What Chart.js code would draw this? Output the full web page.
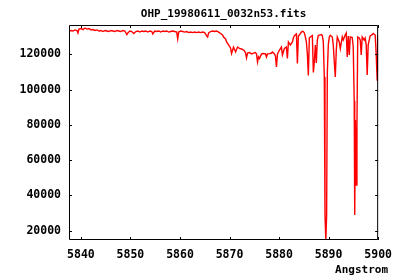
<!DOCTYPE html>
<html>
<head>
<meta charset="utf-8">
<script src="https://cdn.jsdelivr.net/npm/chart.js@4/dist/chart.umd.min.js"></script>
<style>
  html, body { margin: 0; padding: 0; background: #fff; }
  #wrap { width: 400px; height: 280px; }
</style>
</head>
<body>
<div id="wrap"><canvas id="spec"></canvas></div>
<script>
// ── Spectrum data ─────────────────────────────────────────────
const wavelength = [
  5837.60, 5838.00, 5838.41, 5838.81, 5839.21, 5839.41, 5839.61, 5840.02, 5840.42, 5840.82,
  5841.22, 5841.63, 5842.03, 5842.43, 5842.83, 5843.24, 5843.64, 5844.04, 5844.44, 5844.85,
  5845.25, 5845.65, 5846.05, 5846.46, 5846.86, 5847.26, 5847.67, 5848.07, 5848.47, 5848.87,
  5849.28, 5849.48, 5849.88, 5850.28, 5850.68, 5851.09, 5851.49, 5851.89, 5852.29, 5852.70,
  5853.10, 5853.50, 5853.91, 5854.31, 5854.51, 5854.91, 5855.31, 5855.72, 5856.12, 5856.52,
  5856.92, 5857.33, 5857.73, 5858.13, 5858.53, 5858.94, 5859.34, 5859.54, 5859.74, 5860.15,
  5860.55, 5860.95, 5861.35, 5861.76, 5862.16, 5862.56, 5862.96, 5863.37, 5863.77, 5864.17,
  5864.57, 5864.98, 5865.38, 5865.58, 5865.78, 5866.18, 5866.59, 5866.99, 5867.39, 5867.80,
  5868.20, 5868.60, 5868.80, 5869.20, 5869.41, 5869.81, 5870.21, 5870.41, 5870.81, 5871.22,
  5871.62, 5872.02, 5872.42, 5872.83, 5873.03, 5873.23, 5873.43, 5873.63, 5874.04, 5874.44,
  5874.84, 5875.24, 5875.45, 5875.65, 5875.85, 5876.05, 5876.46, 5876.86, 5877.26, 5877.46,
  5877.66, 5878.06, 5878.47, 5878.67, 5879.07, 5879.27, 5879.47, 5879.68, 5880.08, 5880.48,
  5880.68, 5881.08, 5881.48, 5881.68, 5881.89, 5882.09, 5882.29, 5882.69, 5882.89, 5883.09,
  5883.50, 5883.70, 5883.90, 5884.10, 5884.50, 5884.70, 5884.91, 5885.11, 5885.31, 5885.51,
  5885.71, 5885.91, 5886.11, 5886.31, 5886.72, 5886.92, 5887.12, 5887.32, 5887.52, 5887.72,
  5887.92, 5888.13, 5888.53, 5888.73, 5888.93, 5889.13, 5889.27, 5889.44, 5889.60, 5889.74,
  5889.94, 5890.14, 5890.34, 5890.74, 5890.94, 5891.15, 5891.35, 5891.55, 5891.75, 5892.15,
  5892.36, 5892.76, 5892.96, 5893.36, 5893.56, 5893.76, 5893.97, 5894.17, 5894.37, 5894.77,
  5894.97, 5895.17, 5895.27, 5895.41, 5895.57, 5895.72, 5895.88, 5896.18, 5896.38, 5896.58,
  5896.78, 5897.18, 5897.38, 5897.59, 5897.79, 5897.99, 5898.39, 5898.80, 5899.00, 5899.40,
  5899.60, 5899.80, 5899.90, 5900.00
];
const flux = [
  133200, 133500, 133200, 133800, 133500, 132100, 134300, 134600, 134000, 134900,
  134300, 134600, 133800, 134000, 133500, 133800, 133200, 133500, 132900, 133500,
  133200, 132900, 133500, 133200, 132900, 133500, 133200, 132900, 133500, 133200,
  131200, 132100, 133200, 132900, 131800, 132900, 133200, 132600, 133200, 132900,
  133200, 132600, 133200, 132900, 131500, 133200, 132900, 133200, 132600, 133200,
  132900, 133200, 132600, 132900, 133200, 132900, 132600, 128700, 132600, 133200,
  132900, 132600, 132900, 132300, 132600, 132300, 132600, 132300, 132600, 132300,
  132600, 132300, 130400, 129800, 132100, 132900, 133200, 132900, 133200, 132600,
  131800, 130900, 129800, 128700, 127000, 125300, 123600, 120400, 124100, 121300,
  124100, 123300, 123000, 122400, 121900, 120700, 117900, 120700, 121000, 120200,
  120700, 121000, 120200, 115600, 118500, 117600, 120200, 120400, 120200, 118500,
  120200, 120400, 120700, 121300, 120200, 119000, 112800, 120200, 122400, 124100,
  119600, 123300, 124100, 117600, 127000, 126100, 125300, 127000, 129200, 130600,
  131500, 114800, 130400, 130900, 132600, 133000, 132900, 132100, 129800, 127000,
  120400, 108000, 129200, 129800, 130600, 109700, 115600, 125300, 115100, 128100,
  130600, 130900, 131200, 130600, 127000, 107100, 28900, 14700, 28900, 109400,
  125300, 129800, 130800, 129800, 125300, 115600, 107100, 122400, 129800, 127000,
  123200, 129800, 128100, 131100, 132100, 118500, 130400, 119600, 129800, 129500,
  124100, 93500, 28900, 82700, 45900, 79900, 129800, 129200, 128100, 119600,
  129800, 128100, 129200, 125300, 108300, 125300, 130400, 131100, 131800, 130900,
  120300, 105400, 130900, 109400
];
const xTicks = [5840, 5850, 5860, 5870, 5880, 5890, 5900];
const yTicks = [20000, 40000, 60000, 80000, 100000, 120000];

const titleText = 'OHP_19980611_0032n53.fits';
const xLabel    = 'Angstrom';
const FONT      = '"DejaVu Sans Mono", monospace';

// ── Border box, inward mirrored ticks, title and x label ──────
const gnuFrame = {
  id: 'gnuFrame',
  afterDatasetsDraw(chart) {
    const { ctx, chartArea: a, scales: { x, y } } = chart;
    const t = 3;
    ctx.save();
    ctx.strokeStyle = '#000';
    ctx.lineWidth = 1;
    ctx.beginPath();
    ctx.rect(a.left + 0.5, a.top + 0.5, a.right - a.left - 1, a.bottom - a.top - 1);
    x.ticks.forEach(tk => {
      const px = Math.round(x.getPixelForValue(tk.value)) + 0.5;
      ctx.moveTo(px, a.bottom); ctx.lineTo(px, a.bottom - t);
      ctx.moveTo(px, a.top);    ctx.lineTo(px, a.top + t);
    });
    y.ticks.forEach(tk => {
      const py = Math.round(y.getPixelForValue(tk.value)) + 0.5;
      ctx.moveTo(a.left, py);  ctx.lineTo(a.left + t, py);
      ctx.moveTo(a.right, py); ctx.lineTo(a.right - t, py);
    });
    ctx.stroke();

    ctx.fillStyle = '#000';
    ctx.font = 'bold 11px ' + FONT;
    ctx.textBaseline = 'middle';
    ctx.textAlign = 'center';
    ctx.fillText(titleText, (a.left + a.right) / 2, 14);
    ctx.textAlign = 'right';
    ctx.fillText(xLabel, 388, 270);
    ctx.restore();
  }
};

const tickFont = { family: FONT, size: 11.5, weight: 'bold' };

new Chart(document.getElementById('spec'), {
  type: 'line',
  data: {
    datasets: [{
      data: wavelength.map((w, i) => ({ x: w, y: flux[i] })),
      borderColor: '#ff0000',
      borderWidth: 1.4,
      pointRadius: 0,
      tension: 0,
      fill: false
    }]
  },
  options: {
    responsive: true,
    maintainAspectRatio: false,
    animation: false,
    layout: { padding: { left: 0, right: 21, top: 25, bottom: 0 } },
    plugins: { legend: { display: false }, tooltip: { enabled: false }, title: { display: false } },
    scales: {
      x: {
        type: 'linear',
        min: 5837.6,
        max: 5900,
        grid: { display: false, drawTicks: false },
        border: { display: false },
        afterBuildTicks: s => { s.ticks = xTicks.map(v => ({ value: v })); },
        afterFit: s => { s.height = 40; },
        ticks: { color: '#000', padding: 8, maxRotation: 0, font: tickFont, callback: v => String(v) }
      },
      y: {
        min: 14700,
        max: 136600,
        grid: { display: false, drawTicks: false },
        border: { display: false },
        afterBuildTicks: s => { s.ticks = yTicks.map(v => ({ value: v })); },
        afterFit: s => { s.width = 69; },
        ticks: { color: '#000', padding: 8, font: tickFont, callback: v => String(v) }
      }
    }
  },
  plugins: [gnuFrame]
});
</script>
</body>
</html>
